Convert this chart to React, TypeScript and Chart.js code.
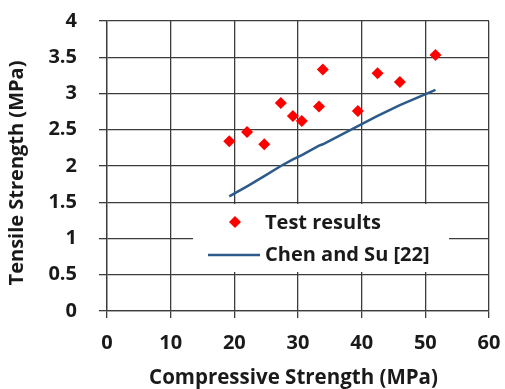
import { useEffect, useRef } from "react";
import { Chart, registerables } from "chart.js";

Chart.register(...registerables);

// ---- data ----
const testX = [19.2, 22.0, 24.7, 27.3, 29.2, 30.6, 33.3, 33.9, 39.4, 42.5, 46.0, 51.6];
const testY = [2.34, 2.47, 2.3, 2.87, 2.69, 2.62, 2.82, 3.33, 2.76, 3.28, 3.16, 3.53];
const chenX = [19.2, 22.0, 24.7, 27.3, 29.2, 30.6, 33.3, 33.9, 39.4, 42.5, 46.0, 51.6];
const chenY = [1.58, 1.72, 1.86, 2.0, 2.09, 2.15, 2.28, 2.3, 2.55, 2.69, 2.84, 3.05];
const xTickValues = [0, 10, 20, 30, 40, 50, 60];
const yTickValues = [0, 0.5, 1, 1.5, 2, 2.5, 3, 3.5, 4];
const seriesNames = ["Test results", "Chen and Su [22]"];
const xTitle = "Compressive Strength (MPa)";
const yTitle = "Tensile Strength (MPa)";

const RED = "#ff0000";
const BLUE = "#2c5b8b";
const GRID = "#3c3c3c";
const TEXT = "#1a1a1a";
const FONT = "'Open Sans'";

const titlesPlugin = {
  id: "axisTitles",
  afterDraw(chart: any) {
    const ctx = chart.ctx;
    ctx.save();
    ctx.fillStyle = TEXT;
    ctx.textAlign = "center";
    ctx.textBaseline = "middle";
    ctx.font = `bold 20.5px ${FONT}`;
    ctx.fillText(xTitle, 293.5, 378);
    ctx.font = `bold 20px ${FONT}`;
    ctx.translate(17, 173);
    ctx.rotate(-Math.PI / 2);
    ctx.fillText(yTitle, 0, 0);
    ctx.restore();
  },
};

const legendPlugin = {
  id: "insideLegend",
  afterDatasetsDraw(chart: any) {
    const ctx = chart.ctx;
    const ds = chart.data.datasets;
    ctx.save();
    ctx.fillStyle = "#ffffff";
    ctx.fillRect(193, 204, 256, 68);
    const cx = 235, cy = 222, r = 6;
    ctx.fillStyle = ds[0].backgroundColor;
    ctx.beginPath();
    ctx.moveTo(cx, cy - r);
    ctx.lineTo(cx + r, cy);
    ctx.lineTo(cx, cy + r);
    ctx.lineTo(cx - r, cy);
    ctx.closePath();
    ctx.fill();
    ctx.strokeStyle = ds[1].borderColor;
    ctx.lineWidth = 2.5;
    ctx.beginPath();
    ctx.moveTo(208, 255);
    ctx.lineTo(260, 255);
    ctx.stroke();
    ctx.fillStyle = TEXT;
    ctx.font = `bold 20px ${FONT}`;
    ctx.textAlign = "left";
    ctx.textBaseline = "alphabetic";
    ctx.fillText(ds[0].label, 265, 229);
    ctx.fillText(ds[1].label, 265, 261);
    ctx.restore();
  },
};

const zeroPad = (s: any) => {
  s.paddingTop = 0;
  s.paddingBottom = 0;
  s.paddingLeft = 0;
  s.paddingRight = 0;
};

export default function App() {
  const ref = useRef<HTMLCanvasElement>(null);
  useEffect(() => {
    if (!ref.current) return;
    const chart = new Chart(ref.current, {
      type: "scatter",
      data: {
        datasets: [
          {
            label: seriesNames[0],
            data: testX.map((x, i) => ({ x, y: testY[i] })),
            backgroundColor: RED,
            borderColor: RED,
            pointStyle: "rectRot",
            pointRadius: 6,
            pointBorderWidth: 0,
            showLine: false,
          },
          {
            label: seriesNames[1],
            data: chenX.map((x, i) => ({ x, y: chenY[i] })),
            borderColor: BLUE,
            backgroundColor: BLUE,
            borderWidth: 2.5,
            pointRadius: 0,
            showLine: true,
          },
        ],
      },
      options: {
        responsive: false,
        animation: false,
        layout: { autoPadding: false, padding: { left: 0, right: 16, top: 21, bottom: 0 } },
        plugins: { legend: { display: false }, tooltip: { enabled: false } },
        scales: {
          x: {
            type: "linear",
            min: 0,
            max: 60,
            afterFit: (s: any) => { s.height = 78; zeroPad(s); },
            afterBuildTicks: (s: any) => { s.ticks = xTickValues.map((v) => ({ value: v })); },
            ticks: { color: TEXT, font: { family: FONT, size: 20, weight: "bold" }, padding: 13, maxRotation: 0, callback: (v: any) => String(v) },
            grid: { color: GRID, lineWidth: 1.3, tickLength: 7, tickColor: GRID },
            border: { display: true, color: GRID, width: 1.3 },
          },
          y: {
            type: "linear",
            min: 0,
            max: 4,
            afterFit: (s: any) => { s.width = 107; zeroPad(s); },
            afterBuildTicks: (s: any) => { s.ticks = yTickValues.map((v) => ({ value: v })); },
            ticks: { color: TEXT, font: { family: FONT, size: 20, weight: "bold" }, padding: 22, callback: (v: any) => String(v) },
            grid: { color: GRID, lineWidth: 1.3, tickLength: 8, tickColor: GRID },
            border: { display: true, color: GRID, width: 1.3 },
          },
        },
      },
      plugins: [legendPlugin, titlesPlugin],
    });
    return () => chart.destroy();
  }, []);
  return (
    <div style={{ position: "absolute", left: 0, top: 0, width: 505, height: 389, background: "#fff" }}>
      <canvas ref={ref} width={505} height={389} />
    </div>
  );
}
